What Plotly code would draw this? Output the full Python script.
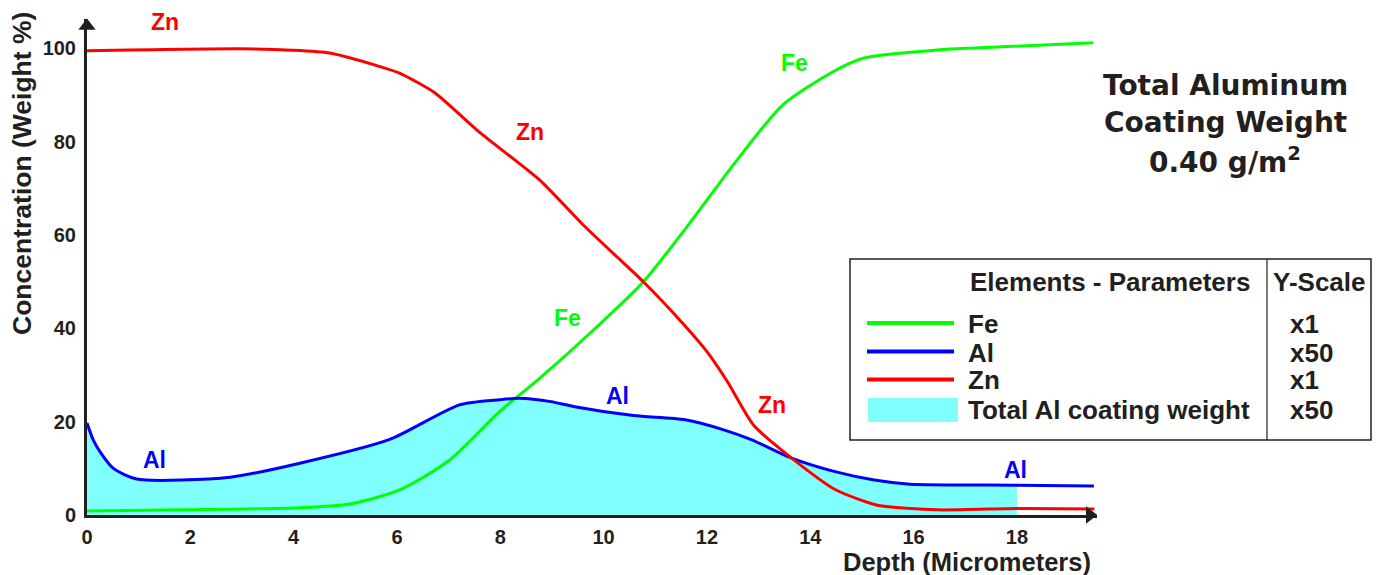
import plotly.graph_objects as go

# ---------------- data ----------------
fe_x = [0, 1.93, 4.12, 5.09, 6.05, 7.02, 7.98, 8.76, 9.73, 10.77, 11.6, 12.57, 13.47, 14.44, 15.02, 16.5, 17.2, 19.48]
fe_y = [0.86, 1.1, 1.56, 2.36, 5.36, 11.8, 22.1, 29.3, 38.9, 50.0, 61.6, 75.9, 87.9, 95.0, 97.9, 99.7, 100.1, 101.2]

zn_x = [0, 2.96, 3.97, 4.7, 5.67, 6.05, 6.73, 7.6, 8.76, 9.6, 10.25, 10.77, 11.53, 12.0, 12.4, 12.9, 13.64, 14.49, 15.3, 16.46, 18.0, 19.5]
zn_y = [99.5, 99.9, 99.6, 99.0, 96.1, 94.7, 90.5, 82.0, 71.8, 62.2, 55.4, 50.0, 41.1, 35.0, 28.5, 19.3, 12.2, 5.4, 2.1, 1.1, 1.4, 1.3]

al_x = [0, 0.12, 0.25, 0.51, 0.96, 2.77, 4.12, 5.86, 7.21, 7.99, 8.37, 8.98, 9.44, 10.58, 11.58, 12.34, 12.87, 13.64, 14.48, 15.24, 15.93, 18.0, 19.49]
al_y = [19.7, 16.1, 13.6, 10.0, 7.7, 8.1, 11.1, 16.2, 23.6, 24.7, 25.0, 24.3, 23.2, 21.3, 20.4, 18.2, 16.1, 12.2, 9.3, 7.5, 6.6, 6.4, 6.2]

fill_end = 18.0  # total Al coating weight area ends here

x_ticks = [0, 2, 4, 6, 8, 10, 12, 14, 16, 18]
y_ticks = [0, 20, 40, 60, 80, 100]

curve_labels = [
    ("Zn", 1.51, 105.7, "#FF0000"),
    ("Zn", 8.57, 82.1, "#FF0000"),
    ("Zn", 13.25, 23.6, "#FF0000"),
    ("Fe", 13.7, 96.9, "#00FF00"),
    ("Fe", 9.3, 42.2, "#00FF00"),
    ("Al", 1.31, 11.8, "#0000FF"),
    ("Al", 10.27, 25.5, "#0000FF"),
    ("Al", 17.97, 9.6, "#0000FF"),
]

legend_rows = [("Fe", "x1", "#00FF00", "line"),
               ("Al", "x50", "#0000FF", "line"),
               ("Zn", "x1", "#FF0000", "line"),
               ("Total Al coating weight", "x50", "#80FFFF", "box")]

# ---------------- layout geometry ----------------
W, H = 1382, 575
L, R, T, B = 87, 285, 19, 60
X_MAX = 19.55
Y_MAX = 106.3
DARK = "#231F20"
FONT = "Liberation Sans"

pw = W - L - R
ph = H - T - B


def px(xp):
    return (xp - L) / pw


def py(yp):
    return (H - B - yp) / ph


def txt(x, y, text, size, color=DARK, family=FONT, xanchor="center", textangle=0):
    return dict(x=x, y=y, xref="paper", yref="paper", text=text, showarrow=False,
                xanchor=xanchor, yanchor="middle", textangle=textangle,
                font=dict(family=family, size=size, color=color, weight="bold"))


fig = go.Figure()

# cyan area
fx = [x for x in al_x if x <= fill_end]
fy = [al_y[i] for i, x in enumerate(al_x) if x <= fill_end]
fig.add_trace(go.Scatter(x=fx, y=fy, mode="lines", line=dict(width=0, shape="spline", smoothing=0.7),
                         fill="tozeroy", fillcolor="#80FFFF", hoverinfo="skip", showlegend=False))
fig.add_trace(go.Scatter(x=fe_x, y=fe_y, mode="lines", name="Fe",
                         line=dict(color="#00FF00", width=3, shape="spline", smoothing=0.7)))
fig.add_trace(go.Scatter(x=al_x, y=al_y, mode="lines", name="Al",
                         line=dict(color="#0000FF", width=3, shape="spline", smoothing=0.7)))
fig.add_trace(go.Scatter(x=zn_x, y=zn_y, mode="lines", name="Zn",
                         line=dict(color="#FF0000", width=3, shape="spline", smoothing=0.6)))

# axis arrow heads
fig.add_trace(go.Scatter(x=[X_MAX - 0.14], y=[0], mode="markers", cliponaxis=False, hoverinfo="skip",
                         marker=dict(symbol="triangle-right", size=15, color=DARK), showlegend=False))
fig.add_trace(go.Scatter(x=[0], y=[Y_MAX - 1.5], mode="markers", cliponaxis=False, hoverinfo="skip",
                         marker=dict(symbol="triangle-up", size=15, color=DARK), showlegend=False))

ann = []
for t, x, y, c in curve_labels:
    ann.append(dict(x=x, y=y, text=t, showarrow=False, xref="x", yref="y",
                    xanchor="center", yanchor="middle",
                    font=dict(family=FONT, size=23, color=c, weight="bold")))

# axis titles
ann.append(txt(px(967), py(562), "Depth (Micrometers)", 25.5))
ann.append(txt(px(22), py(174), "Concentration (Weight %)", 26.5, textangle=-90))

# title block
title_lines = ["Total Aluminum", "Coating Weight", "0.40 g/m<sup>2</sup>"]
for i, t in enumerate(title_lines):
    ann.append(txt(px(1225), py(85 + 37.5 * i), t, 28, family="DejaVu Sans"))

shapes = []
# legend box
shapes.append(dict(type="rect", xref="paper", yref="paper", x0=px(850), x1=px(1371), y0=py(259), y1=py(440),
                   line=dict(color=DARK, width=1.5), fillcolor="white"))
shapes.append(dict(type="line", xref="paper", yref="paper", x0=px(1267), x1=px(1267), y0=py(259), y1=py(440),
                   line=dict(color=DARK, width=1.2)))
ann.append(txt(px(1110), py(282), "Elements - Parameters", 26))
ann.append(txt(px(1319), py(282), "Y-Scale", 26))
row_y = [324, 352.5, 380.5, 410]
for (name, scale, col, kind), ry in zip(legend_rows, row_y):
    if kind == "line":
        shapes.append(dict(type="line", xref="paper", yref="paper", x0=px(867), x1=px(954), y0=py(ry - 1), y1=py(ry - 1),
                           line=dict(color=col, width=4)))
    else:
        shapes.append(dict(type="rect", xref="paper", yref="paper", x0=px(868), x1=px(958), y0=py(398), y1=py(422),
                           line=dict(width=0), fillcolor=col))
    ann.append(txt(px(966), py(ry), name, 26, xanchor="left"))
    ann.append(txt(px(1288), py(ry), scale, 26, xanchor="left"))

fig.update_layout(
    width=W, height=H,
    margin=dict(l=L, r=R, t=T, b=B, pad=0),
    paper_bgcolor="white", plot_bgcolor="white",
    showlegend=False,
    annotations=ann, shapes=shapes,
)
fig.update_xaxes(range=[0, X_MAX], tickvals=x_ticks, showgrid=False, zeroline=False,
                 showline=True, linecolor=DARK, linewidth=3, ticks="outside", ticklen=2, tickcolor="rgba(0,0,0,0)",
                 tickfont=dict(family=FONT, size=20, color=DARK, weight="bold"))
fig.update_yaxes(range=[0, Y_MAX], tickvals=y_ticks, showgrid=False, zeroline=False,
                 showline=True, linecolor=DARK, linewidth=3, ticks="outside", ticklen=4, tickcolor="rgba(0,0,0,0)",
                 tickfont=dict(family=FONT, size=20, color=DARK, weight="bold"))

fig.write_html("out.html", config={"displayModeBar": False},
               post_script="document.body.style.margin='0';document.body.style.overflow='hidden';")
